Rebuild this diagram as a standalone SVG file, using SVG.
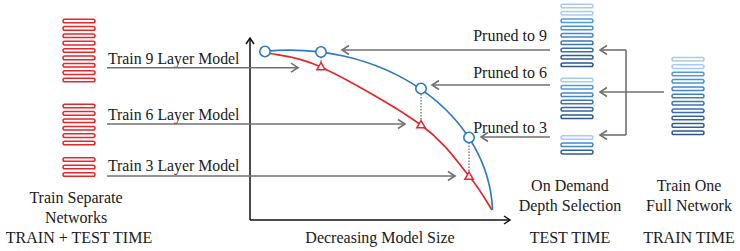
<svg xmlns="http://www.w3.org/2000/svg" width="740" height="251" viewBox="0 0 740 251">
<style>
text{font-family:"Liberation Serif","Times New Roman",serif;font-size:16px;fill:#1a1a1a}
.lbl{font-size:15.8px}
.rb{fill:none;stroke:#e5262b;stroke-width:1.5}
.bb{fill:none;stroke-width:1.5}
.p{stroke:#a6cbf1}
.c1{stroke:#4e9be3}.c2{stroke:#4891d9}.c3{stroke:#4387ce}.c4{stroke:#3e7ec2}.c5{stroke:#3a75b6}.c6{stroke:#366dab}.c7{stroke:#3366a0}.c8{stroke:#305f96}.c9{stroke:#2d588b}
.ga{fill:none;stroke:#707070;stroke-width:1.6;marker-end:url(#ag)}
.gl{fill:none;stroke:#707070;stroke-width:1.6}
.ax{fill:none;stroke:#111;stroke-width:1.5;marker-end:url(#ak)}
.dot{stroke:#444;stroke-width:1;stroke-dasharray:1.5 1.5}
.bc{fill:none;stroke:#2e7bc4;stroke-width:1.7}
.rc{fill:none;stroke:#e5262b;stroke-width:1.7}
.cir{fill:#fff;stroke:#2e7bc4;stroke-width:1.6}
.tri{fill:#fff;stroke:#e5262b;stroke-width:1.5}
</style>
<defs>
<marker id="ag" markerUnits="userSpaceOnUse" viewBox="-10 -6 12 12" refX="0" refY="0" markerWidth="12" markerHeight="12" orient="auto" overflow="visible"><path d="M-7,-4.5 L0,0 L-7,4.5" fill="none" stroke="#707070" stroke-width="1.6"/></marker>
<marker id="ak" markerUnits="userSpaceOnUse" viewBox="-10 -6 12 12" refX="0" refY="0" markerWidth="12" markerHeight="12" orient="auto" overflow="visible"><path d="M-6,-4 L0,0 L-6,4" fill="none" stroke="#111" stroke-width="1.5"/></marker>
</defs>
<rect width="740" height="251" fill="#fff"/>

<g id="separate-9">
<rect class="rb" x="63" y="19.2" width="32" height="3.6" rx="1.8"/>
<rect class="rb" x="63" y="26.6" width="32" height="3.6" rx="1.8"/>
<rect class="rb" x="63" y="33.9" width="32" height="3.6" rx="1.8"/>
<rect class="rb" x="63" y="41.3" width="32" height="3.6" rx="1.8"/>
<rect class="rb" x="63" y="48.7" width="32" height="3.6" rx="1.8"/>
<rect class="rb" x="63" y="56.1" width="32" height="3.6" rx="1.8"/>
<rect class="rb" x="63" y="63.4" width="32" height="3.6" rx="1.8"/>
<rect class="rb" x="63" y="70.8" width="32" height="3.6" rx="1.8"/>
<rect class="rb" x="63" y="78.2" width="32" height="3.6" rx="1.8"/>
<text class="lbl" x="108" y="63.5">Train 9 Layer Model</text>
</g>
<g id="separate-6">
<rect class="rb" x="63" y="104.2" width="32" height="3.6" rx="1.8"/>
<rect class="rb" x="63" y="111.6" width="32" height="3.6" rx="1.8"/>
<rect class="rb" x="63" y="119" width="32" height="3.6" rx="1.8"/>
<rect class="rb" x="63" y="126.4" width="32" height="3.6" rx="1.8"/>
<rect class="rb" x="63" y="133.8" width="32" height="3.6" rx="1.8"/>
<rect class="rb" x="63" y="141.2" width="32" height="3.6" rx="1.8"/>
<text class="lbl" x="108" y="119.5">Train 6 Layer Model</text>
</g>
<g id="separate-3">
<rect class="rb" x="63" y="157.7" width="32" height="3.6" rx="1.8"/>
<rect class="rb" x="63" y="165.2" width="32" height="3.6" rx="1.8"/>
<rect class="rb" x="63" y="172.7" width="32" height="3.6" rx="1.8"/>
<text class="lbl" x="108" y="171">Train 3 Layer Model</text>
</g>
<g id="separate-caption" text-anchor="middle">
<text x="76" y="203">Train Separate</text>
<text x="76" y="223">Networks</text>
<text x="79" y="242.7">TRAIN + TEST TIME</text>
</g>

<g id="pruned-9">
<rect class="bb p" x="561" y="4.2" width="32" height="3.6" rx="1.8"/>
<rect class="bb p" x="561" y="11.5" width="32" height="3.6" rx="1.8"/>
<rect class="bb c1" x="561" y="18.9" width="32" height="3.6" rx="1.8"/>
<rect class="bb c2" x="561" y="26.2" width="32" height="3.6" rx="1.8"/>
<rect class="bb c3" x="561" y="33.5" width="32" height="3.6" rx="1.8"/>
<rect class="bb c5" x="561" y="40.9" width="32" height="3.6" rx="1.8"/>
<rect class="bb c6" x="561" y="48.2" width="32" height="3.6" rx="1.8"/>
<rect class="bb c8" x="561" y="55.5" width="32" height="3.6" rx="1.8"/>
<rect class="bb c9" x="561" y="62.9" width="32" height="3.6" rx="1.8"/>
<text x="547" y="41" text-anchor="end">Pruned to 9</text>
</g>
<g id="pruned-6">
<rect class="bb p" x="561" y="78.2" width="32" height="3.6" rx="1.8"/>
<rect class="bb c1" x="561" y="85.5" width="32" height="3.6" rx="1.8"/>
<rect class="bb c3" x="561" y="92.9" width="32" height="3.6" rx="1.8"/>
<rect class="bb c5" x="561" y="100.2" width="32" height="3.6" rx="1.8"/>
<rect class="bb c7" x="561" y="107.5" width="32" height="3.6" rx="1.8"/>
<rect class="bb c9" x="561" y="114.9" width="32" height="3.6" rx="1.8"/>
<text x="547" y="77.5" text-anchor="end">Pruned to 6</text>
</g>
<g id="pruned-3">
<rect class="bb p" x="561" y="135.7" width="32" height="3.6" rx="1.8"/>
<rect class="bb c3" x="561" y="143" width="32" height="3.6" rx="1.8"/>
<rect class="bb c8" x="561" y="150.3" width="32" height="3.6" rx="1.8"/>
<text x="547" y="132.5" text-anchor="end">Pruned to 3</text>
</g>
<g id="test-caption" text-anchor="middle">
<text x="570" y="190.5">On Demand</text>
<text x="570" y="211">Depth Selection</text>
<text x="570" y="242.7">TEST TIME</text>
</g>

<g id="full-network">
<rect class="bb p" x="672" y="57.5" width="32" height="3.6" rx="1.8"/>
<rect class="bb p" x="672" y="64.8" width="32" height="3.6" rx="1.8"/>
<rect class="bb c1" x="672" y="72.2" width="32" height="3.6" rx="1.8"/>
<rect class="bb c2" x="672" y="79.5" width="32" height="3.6" rx="1.8"/>
<rect class="bb c3" x="672" y="86.9" width="32" height="3.6" rx="1.8"/>
<rect class="bb c4" x="672" y="94.2" width="32" height="3.6" rx="1.8"/>
<rect class="bb c5" x="672" y="101.5" width="32" height="3.6" rx="1.8"/>
<rect class="bb c6" x="672" y="108.9" width="32" height="3.6" rx="1.8"/>
<rect class="bb c7" x="672" y="116.2" width="32" height="3.6" rx="1.8"/>
<rect class="bb c8" x="672" y="123.6" width="32" height="3.6" rx="1.8"/>
<rect class="bb c9" x="672" y="130.9" width="32" height="3.6" rx="1.8"/>
</g>
<g id="train-caption" text-anchor="middle">
<text x="689" y="190.5">Train One</text>
<text x="689" y="211">Full Network</text>
<text x="689" y="242.7">TRAIN TIME</text>
</g>

<g id="chart">
<path class="ax" d="M250,220 L250,38"/>
<path class="ax" d="M250,220 L510,220"/>
<text x="380" y="243" text-anchor="middle">Decreasing Model Size</text>
<path class="rc" d="M268,53 C276.8,55.3 295.5,55 321,67 C346.5,79 396.3,106.8 421,125 C445.7,143.2 457.2,161.8 469,176 C480.8,190.2 488.2,204.3 492,210"/>
<path class="bc" d="M265,51.3 A203,165 0 0 1 492.5,210"/>
<line class="dot" x1="321" y1="57" x2="321" y2="62.5"/>
<line class="dot" x1="421" y1="94" x2="421" y2="120.5"/>
<line class="dot" x1="469" y1="142.5" x2="469" y2="172"/>
<polygon class="tri" points="321,62.5 316.8,69.8 325.2,69.8"/>
<polygon class="tri" points="421,120.5 416.8,127.8 425.2,127.8"/>
<polygon class="tri" points="469,172 464.8,179.3 473.2,179.3"/>
<circle class="cir" cx="265" cy="51.5" r="5.2"/>
<circle class="cir" cx="321" cy="52" r="5.2"/>
<circle class="cir" cx="421" cy="88.5" r="5.2"/>
<circle class="cir" cx="469" cy="137.5" r="5.2"/>
</g>

<g id="connectors">
<path class="ga" d="M107,67.7 L298,67.7"/>
<path class="ga" d="M107,124 L405,124"/>
<path class="ga" d="M107,176 L455,176"/>
<path class="ga" d="M550,50 L342,50"/>
<path class="ga" d="M550,85 L432,85"/>
<path class="ga" d="M550,137 L481,137"/>
<path class="ga" d="M664,92 L600,92"/>
<path class="gl" d="M626,50 L626,135"/>
<path class="ga" d="M626,50 L600,50"/>
<path class="ga" d="M626,135 L600,135"/>
</g>
</svg>
